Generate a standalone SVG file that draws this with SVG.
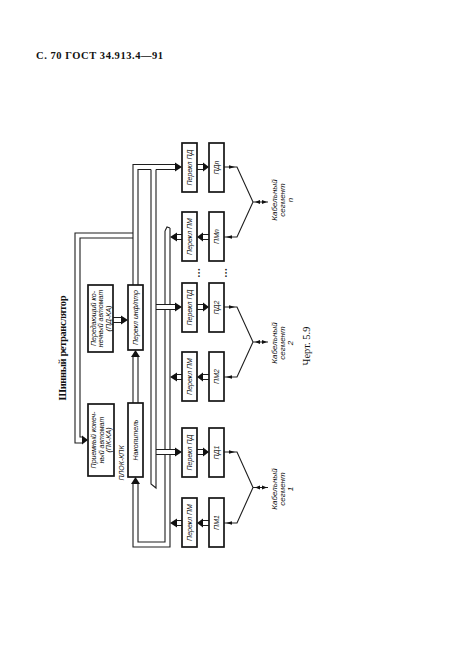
<svg xmlns="http://www.w3.org/2000/svg" width="466" height="661" viewBox="0 0 466 661">
<style>
.bx{fill:#fff;stroke:#151515;stroke-width:1.7}
.ln{fill:none;stroke:#1e1e1e;stroke-width:1.1}
.hd{fill:#111;stroke:none}
.t{font-family:"Liberation Sans",Arial,sans-serif;font-style:italic;font-size:7px;fill:#111;text-anchor:middle}
.cap{font-family:"Liberation Sans",Arial,sans-serif;font-style:italic;font-size:8px;fill:#111;text-anchor:middle}
</style>
<rect width="466" height="661" fill="#fff"/>
<text x="36" y="59" font-family="Liberation Serif, serif" font-weight="bold" font-size="10.5" fill="#111" textLength="127">С. 70 ГОСТ 34.913.4—91</text>
<text transform="translate(66,348) rotate(-90)" text-anchor="middle" font-family="Liberation Serif, serif" font-weight="bold" font-size="10.5" fill="#111" textLength="105">Шинный ретранслятор</text>
<text transform="translate(310,346) rotate(-90)" text-anchor="middle" font-family="Liberation Serif, serif" font-size="10.5" fill="#111">Черт. 5.9</text>

<g id="connectors">
  <path class="ln" d="M165,231 V542 H138 V484 M170,228 V547 H133 V484 M165,231 L167,227 L170,228"/>
  <polygon class="hd" points="131,484 135.5,477 140,484"/>
  <path class="ln" d="M133,285 V164.5 H175 M138,285 V169.5 H151 M156,169.5 H175"/>
  <polygon class="hd" points="175,162.5 182,167 175,171.5"/>
  <path class="ln" d="M133,233 H75 V443 H82 M133,238 H80 V437 H82"/>
  <polygon class="hd" points="82,435.5 88,440 82,444.5"/>
  <path class="ln" d="M151,169.5 V484 L156,488 V169.5"/>
  <path class="ln" d="M133,403 V357 M138,403 V357"/>
  <polygon class="hd" points="131,357 135.5,350 140,357"/>
  <path class="ln" d="M113,317.5 H121 M113,322.5 H121"/>
  <polygon class="hd" points="121,315.5 128,320 121,324.5"/>
  <rect x="157" y="305" width="18" height="4" fill="#fff"/>
  <path class="ln" d="M156,304.5 H175 M156,309.5 H175"/>
  <polygon class="hd" points="175,302.5 182,307 175,311.5"/>
  <rect x="157" y="450" width="18" height="4" fill="#fff"/>
  <path class="ln" d="M156,449.5 H175 M156,454.5 H175"/>
  <polygon class="hd" points="175,447.5 182,452 175,456.5"/>
  <path class="ln" d="M182,234.5 H177 M182,239.5 H177 M182,374.5 H177 M182,379.5 H177 M182,520.5 H177 M182,525.5 H177"/>
  <polygon class="hd" points="177,232.5 170,237 177,241.5"/>
  <polygon class="hd" points="177,372.5 170,377 177,381.5"/>
  <polygon class="hd" points="177,518.5 170,523 177,527.5"/>
  <path class="ln" d="M197,164.5 H203 M197,169.5 H203 M197,304.5 H203 M197,309.5 H203 M197,449.5 H203 M197,454.5 H203"/>
  <polygon class="hd" points="203,162.5 209,167 203,171.5"/>
  <polygon class="hd" points="203,302.5 209,307 203,311.5"/>
  <polygon class="hd" points="203,447.5 209,452 203,456.5"/>
  <path class="ln" d="M209,234.5 H203 M209,239.5 H203 M209,374.5 H203 M209,379.5 H203 M209,520.5 H203 M209,525.5 H203"/>
  <polygon class="hd" points="203,232.5 197,237 203,241.5"/>
  <polygon class="hd" points="203,372.5 197,377 203,381.5"/>
  <polygon class="hd" points="203,518.5 197,523 203,527.5"/>
  <path class="ln" d="M224,167 H237 L253,202 L237,237 H224 M253,202 H268"/>
  <polygon class="hd" points="229,165.2 235,167 229,168.8"/>
  <polygon class="hd" points="232,235.2 226,237 232,238.8"/>
  <polygon class="hd" points="260,200 255,202 260,204"/>
  <polygon class="hd" points="262,200 267,202 262,204"/>
  <path class="ln" d="M224,307 H237 L253,342 L237,377 H224 M253,342 H268"/>
  <polygon class="hd" points="229,305.2 235,307 229,308.8"/>
  <polygon class="hd" points="232,375.2 226,377 232,378.8"/>
  <polygon class="hd" points="260,340 255,342 260,344"/>
  <polygon class="hd" points="262,340 267,342 262,344"/>
  <path class="ln" d="M224,452 H237 L253,487.5 L237,523 H224 M253,487.5 H268"/>
  <polygon class="hd" points="229,450.2 235,452 229,453.8"/>
  <polygon class="hd" points="232,521.2 226,523 232,524.8"/>
  <polygon class="hd" points="260,485.5 255,487.5 260,489.5"/>
  <polygon class="hd" points="262,485.5 267,487.5 262,489.5"/>
</g>

<g id="pd-ka">
  <rect class="bx" x="88" y="285" width="25" height="67"/>
  <text class="t" transform="translate(100.5,318.5) rotate(-90)"><tspan x="0" y="-5">Передающий ко-</tspan><tspan x="0" y="2.5">нечный автомат</tspan><tspan x="0" y="10">(ПД-КА)</tspan></text>
</g>
<g id="pk-ka">
  <rect class="bx" x="88" y="404" width="26" height="72"/>
  <text class="t" transform="translate(101,440) rotate(-90)"><tspan x="0" y="-5">Приемный конеч-</tspan><tspan x="0" y="2.5">ный автомат</tspan><tspan x="0" y="10">(ПК-КА)</tspan></text>
</g>
<g id="label-plok">
  <text class="t" transform="translate(123.5,463) rotate(-90)">ПЛОК-КПК</text>
</g>
<g id="perekl-inf">
  <rect class="bx" x="128" y="285" width="15" height="65"/>
  <text class="t" transform="translate(138,317.5) rotate(-90)">Перекл инф/птр</text>
</g>
<g id="nakopitel">
  <rect class="bx" x="128" y="403" width="15" height="74"/>
  <text class="t" transform="translate(138,440) rotate(-90)">Накопитель</text>
</g>

<g id="perekl-pd-n"><rect class="bx" x="182" y="143" width="15" height="49"/><text class="t" transform="translate(192,167.5) rotate(-90)">Перекл ПД</text></g>
<g id="pd-n"><rect class="bx" x="209" y="143" width="15" height="49"/><text class="t" transform="translate(219,167.5) rotate(-90)">ПДn</text></g>
<g id="perekl-pm-n"><rect class="bx" x="182" y="212" width="15" height="49"/><text class="t" transform="translate(192,236.5) rotate(-90)">Перекл ПМ</text></g>
<g id="pm-n"><rect class="bx" x="209" y="212" width="15" height="49"/><text class="t" transform="translate(219,236.5) rotate(-90)">ПМn</text></g>

<g id="dots">
  <text transform="translate(201,273) rotate(-90)" text-anchor="middle" font-family="DejaVu Sans, sans-serif" font-size="5.5" fill="#111">•••</text>
  <text transform="translate(228,273) rotate(-90)" text-anchor="middle" font-family="DejaVu Sans, sans-serif" font-size="5.5" fill="#111">•••</text>
</g>

<g id="perekl-pd-2"><rect class="bx" x="182" y="283" width="15" height="49"/><text class="t" transform="translate(192,307.5) rotate(-90)">Перекл ПД</text></g>
<g id="pd-2"><rect class="bx" x="209" y="283" width="15" height="49"/><text class="t" transform="translate(219,307.5) rotate(-90)">ПД2</text></g>
<g id="perekl-pm-2"><rect class="bx" x="182" y="352" width="15" height="49"/><text class="t" transform="translate(192,376.5) rotate(-90)">Перекл ПМ</text></g>
<g id="pm-2"><rect class="bx" x="209" y="352" width="15" height="49"/><text class="t" transform="translate(219,376.5) rotate(-90)">ПМ2</text></g>

<g id="perekl-pd-1"><rect class="bx" x="182" y="428" width="15" height="49"/><text class="t" transform="translate(192,452.5) rotate(-90)">Перекл ПД</text></g>
<g id="pd-1"><rect class="bx" x="209" y="428" width="15" height="49"/><text class="t" transform="translate(219,452.5) rotate(-90)">ПД1</text></g>
<g id="perekl-pm-1"><rect class="bx" x="182" y="498" width="15" height="49"/><text class="t" transform="translate(192,522.5) rotate(-90)">Перекл ПМ</text></g>
<g id="pm-1"><rect class="bx" x="209" y="498" width="15" height="49"/><text class="t" transform="translate(219,522.5) rotate(-90)">ПМ1</text></g>

<g id="cable-n"><text class="cap" transform="translate(282,200) rotate(-90)"><tspan x="0" y="-5.5">Кабельный</tspan><tspan x="0" y="2.5">сегмент</tspan><tspan x="0" y="10.5">n</tspan></text></g>
<g id="cable-2"><text class="cap" transform="translate(282,343) rotate(-90)"><tspan x="0" y="-5.5">Кабельный</tspan><tspan x="0" y="2.5">сегмент</tspan><tspan x="0" y="10.5">2</tspan></text></g>
<g id="cable-1"><text class="cap" transform="translate(282,489) rotate(-90)"><tspan x="0" y="-5.5">Кабельный</tspan><tspan x="0" y="2.5">сегмент</tspan><tspan x="0" y="10.5">1</tspan></text></g>
</svg>
